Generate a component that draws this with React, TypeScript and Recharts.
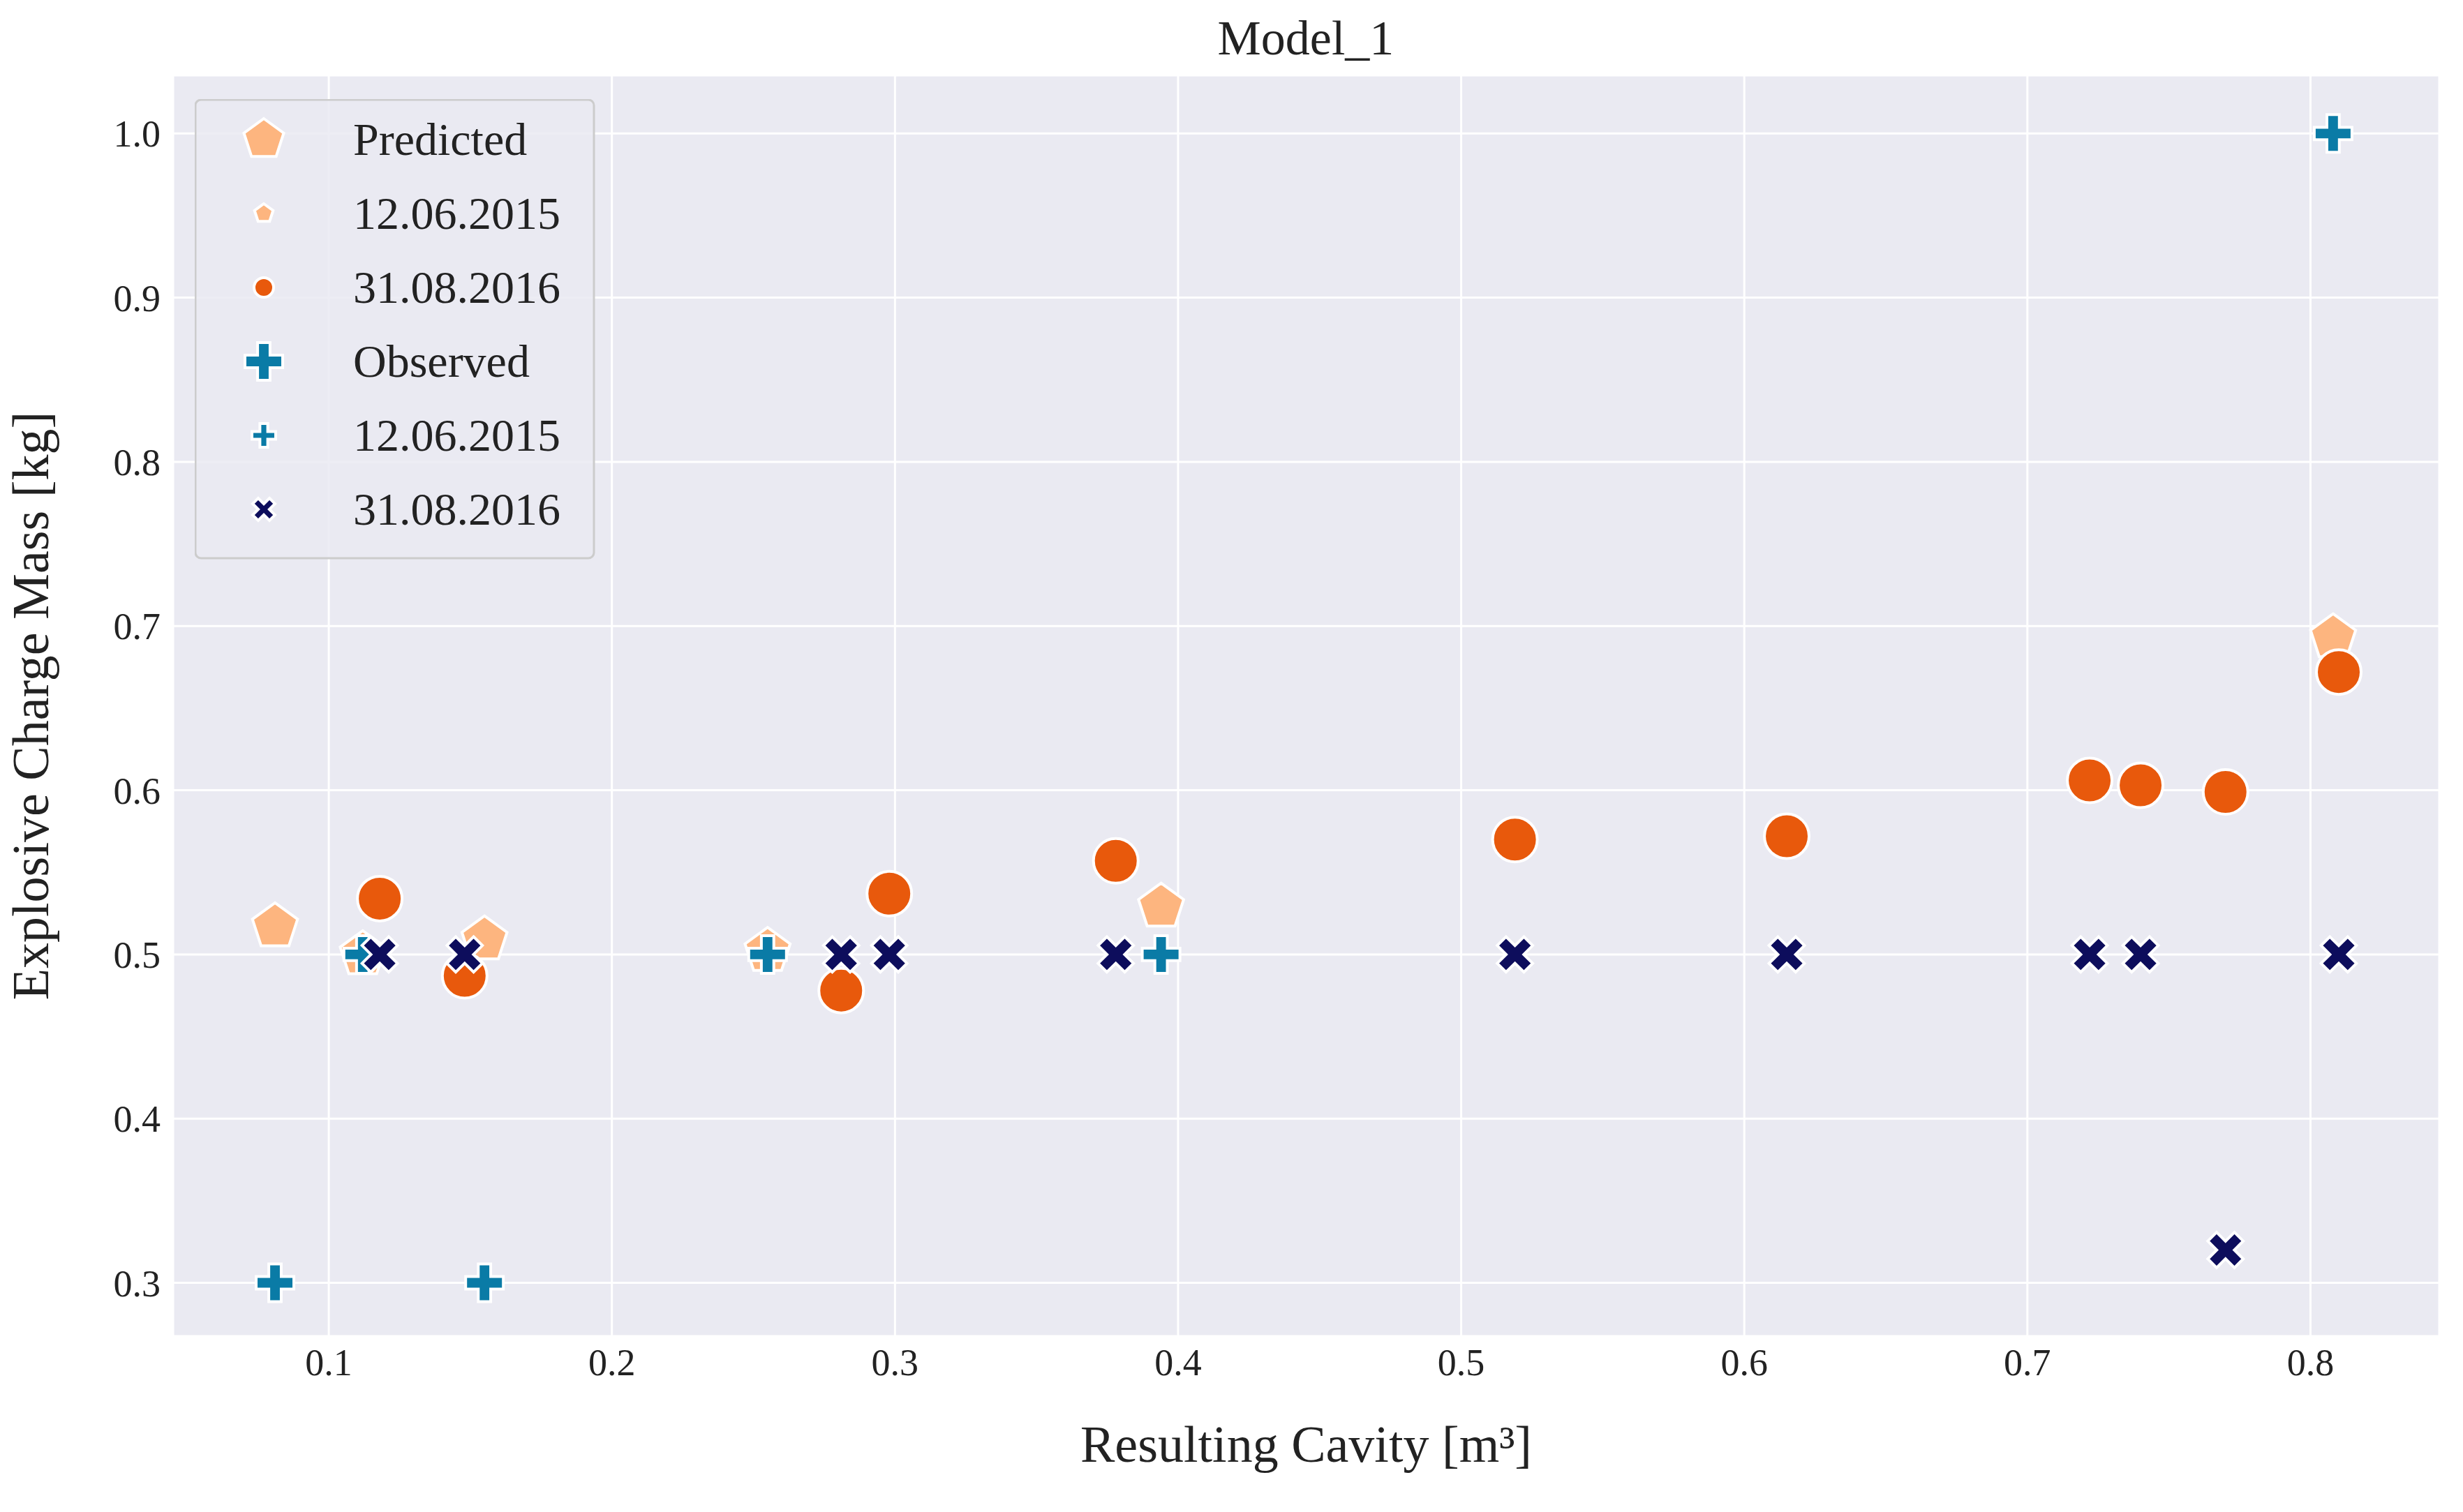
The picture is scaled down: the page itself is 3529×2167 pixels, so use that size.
import React from 'react'
import { ScatterChart, Scatter, XAxis, YAxis, CartesianGrid, Label } from 'recharts'

const pred2015 = [
  { x: 0.081, y: 0.517 }, { x: 0.112, y: 0.5 }, { x: 0.155, y: 0.509 },
  { x: 0.255, y: 0.502 }, { x: 0.394, y: 0.529 }, { x: 0.808, y: 0.693 },
]
const pred2016 = [
  { x: 0.118, y: 0.534 }, { x: 0.148, y: 0.487 }, { x: 0.281, y: 0.478 },
  { x: 0.298, y: 0.537 }, { x: 0.378, y: 0.557 }, { x: 0.519, y: 0.570 },
  { x: 0.615, y: 0.572 }, { x: 0.722, y: 0.606 }, { x: 0.740, y: 0.603 },
  { x: 0.770, y: 0.599 }, { x: 0.810, y: 0.672 },
]
const obs2015 = [
  { x: 0.081, y: 0.3 }, { x: 0.112, y: 0.5 }, { x: 0.155, y: 0.3 },
  { x: 0.255, y: 0.5 }, { x: 0.394, y: 0.5 }, { x: 0.808, y: 1.0 },
]
const obs2016 = [
  { x: 0.118, y: 0.5 }, { x: 0.148, y: 0.5 }, { x: 0.281, y: 0.5 },
  { x: 0.298, y: 0.5 }, { x: 0.378, y: 0.5 }, { x: 0.519, y: 0.5 },
  { x: 0.615, y: 0.5 }, { x: 0.722, y: 0.5 }, { x: 0.740, y: 0.5 },
  { x: 0.770, y: 0.32 }, { x: 0.810, y: 0.5 },
]
const xTicks = [0.1, 0.2, 0.3, 0.4, 0.5, 0.6, 0.7, 0.8]
const yTicks = [0.3, 0.4, 0.5, 0.6, 0.7, 0.8, 0.9, 1.0]

const LIGHT = '#fdb57f'
const ORANGE = '#e8590c'
const TEAL = '#0a7ba6'
const NAVY = '#0d0d5c'
const FONT = '"Liberation Serif", "DejaVu Serif", serif'

function pentPath(cx: number, cy: number, r: number) {
  const pts = []
  for (let i = 0; i < 5; i++) {
    const a = -Math.PI / 2 + (i * 2 * Math.PI) / 5
    pts.push(`${cx + r * Math.cos(a)},${cy + r * Math.sin(a)}`)
  }
  return 'M' + pts.join('L') + 'Z'
}
function plusPath(cx: number, cy: number, r: number, t: number, rot: number) {
  const base = [
    [-t, -r], [t, -r], [t, -t], [r, -t], [r, t], [t, t], [t, r], [-t, r], [-t, t], [-r, t], [-r, -t], [-t, -t],
  ]
  const c = Math.cos(rot), s = Math.sin(rot)
  return 'M' + base.map(([x, y]) => `${cx + x * c - y * s},${cy + x * s + y * c}`).join('L') + 'Z'
}

const Pent = (r: number, fill: string) => (p: any) => <path d={pentPath(p.cx, p.cy, r)} fill={fill} stroke="#fff" strokeWidth={4} />
const Circ = (r: number, fill: string) => (p: any) => <circle cx={p.cx} cy={p.cy} r={r} fill={fill} stroke="#fff" strokeWidth={4} />
const Plus = (r: number, fill: string, rot: number) => (p: any) => (
  <path d={plusPath(p.cx, p.cy, r, r * 0.33, rot)} fill={fill} stroke="#fff" strokeWidth={4} />
)

const legendRows = [
  { label: 'Predicted', shape: Pent(30, LIGHT) },
  { label: '12.06.2015', shape: Pent(14, LIGHT) },
  { label: '31.08.2016', shape: Circ(14, ORANGE) },
  { label: 'Observed', shape: Plus(27, TEAL, 0) },
  { label: '12.06.2015', shape: Plus(17, TEAL, 0) },
  { label: '31.08.2016', shape: Plus(17, NAVY, Math.PI / 4) },
]

export default function App() {
  return (
    <div style={{ position: 'absolute', left: 0, top: 0, width: 3529, height: 2167, background: '#fff', fontFamily: FONT }}>
      <ScatterChart width={3529} height={2167} margin={{ top: 108, right: 34, left: 98, bottom: 102 }}>
        <text x={1871} y={78} textAnchor="middle" fontSize={70} fontFamily={FONT} fill="#222">Model_1</text>
        <CartesianGrid stroke="#fff" strokeWidth={3} fill="#eaeaf2" fillOpacity={1} />
        <XAxis type="number" dataKey="x" domain={[0.045, 0.8455]} ticks={xTicks} height={150}
          tickFormatter={(v: number) => v.toFixed(1)} tick={{ fontSize: 54, fill: '#222', fontFamily: FONT }}
          axisLine={false} tickLine={false} tickMargin={12}>
          <Label position="insideBottom" offset={-30} fontSize={74} fill="#222" fontFamily={FONT} value="Resulting Cavity [m³]" />
        </XAxis>
        <YAxis type="number" dataKey="y" domain={[0.2675, 1.0354]} ticks={yTicks} width={150}
          tickFormatter={(v: number) => v.toFixed(1)} tick={{ fontSize: 54, fill: '#222', fontFamily: FONT }}
          axisLine={false} tickLine={false} tickMargin={12}>
          <Label angle={-90} position="insideLeft" offset={-55} fontSize={74} fill="#222" fontFamily={FONT}
            value="Explosive Charge Mass [kg]" style={{ textAnchor: 'middle' }} />
        </YAxis>
        <Scatter data={pred2015} shape={Pent(34, LIGHT)} isAnimationActive={false} />
        <Scatter data={pred2016} shape={Circ(32, ORANGE)} isAnimationActive={false} />
        <Scatter data={obs2015} shape={Plus(27, TEAL, 0)} isAnimationActive={false} />
        <Scatter data={obs2016} shape={Plus(27, NAVY, Math.PI / 4)} isAnimationActive={false} />
      </ScatterChart>
      <svg style={{ position: 'absolute', left: 279, top: 142 }} width={575} height={662}>
        <rect x={1} y={1} width={571} height={657} rx={8} fill="#eaeaf2" fillOpacity={0.85} stroke="#cccccc" strokeWidth={3} />
        {legendRows.map((r, i) => (
          <g key={i}>
            {r.shape({ cx: 99, cy: 58 + i * 106 })}
            <text x={227} y={58 + i * 106 + 22} fontSize={66} fontFamily={FONT} fill="#222">{r.label}</text>
          </g>
        ))}
      </svg>
    </div>
  )
}
